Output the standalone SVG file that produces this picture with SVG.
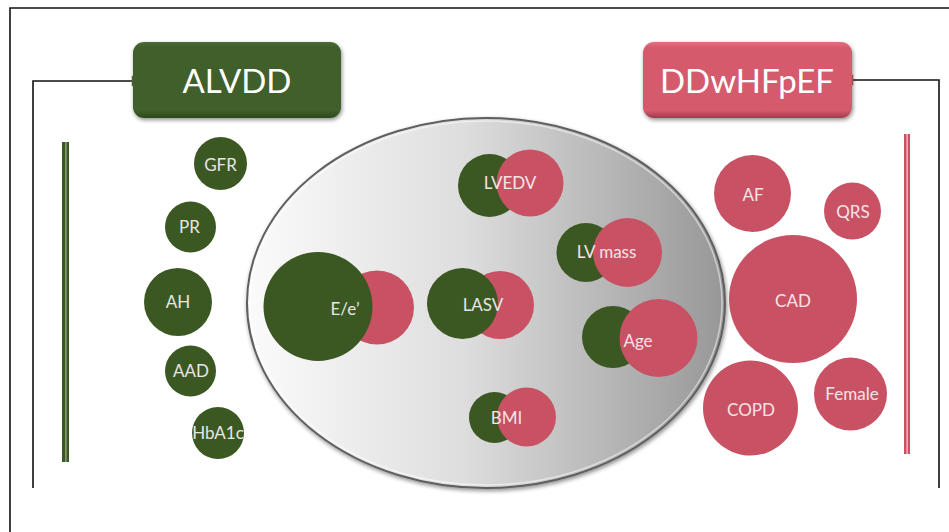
<svg xmlns="http://www.w3.org/2000/svg" width="949" height="532" viewBox="0 0 949 532">
<defs>
<style>
.g{fill:#3b5823}
.p{fill:#c85264}
.t{font-family:Lato,"Liberation Sans",sans-serif;font-size:17px;text-anchor:middle}
.tg{fill:#e6e6e6}
.tp{fill:#f7e3e6}
.ln{fill:none;stroke:#111;stroke-width:1.6}
.title{font-family:Lato,"Liberation Sans",sans-serif;font-size:33px;text-anchor:middle;fill:#ffffff}
</style>
<linearGradient id="ell" x1="0" y1="0" x2="1" y2="0">
<stop offset="0" stop-color="#fbfbfb"/>
<stop offset="0.45" stop-color="#dedede"/>
<stop offset="1" stop-color="#979797"/>
</linearGradient>
<linearGradient id="gbox" x1="0" y1="0" x2="0" y2="1">
<stop offset="0" stop-color="#4a6b33"/>
<stop offset="0.08" stop-color="#3f5e2a"/>
<stop offset="0.9" stop-color="#3f5e2a"/>
<stop offset="1" stop-color="#2d4a1c"/>
</linearGradient>
<linearGradient id="pbox" x1="0" y1="0" x2="0" y2="1">
<stop offset="0" stop-color="#e07080"/>
<stop offset="0.08" stop-color="#d55a6c"/>
<stop offset="0.9" stop-color="#d55a6c"/>
<stop offset="1" stop-color="#9e3a4a"/>
</linearGradient>
<filter id="sh" x="-10%" y="-10%" width="120%" height="130%">
<feGaussianBlur in="SourceAlpha" stdDeviation="2"/>
<feOffset dx="1" dy="2" result="b"/>
<feComponentTransfer><feFuncA type="linear" slope="0.45"/></feComponentTransfer>
<feMerge><feMergeNode/><feMergeNode in="SourceGraphic"/></feMerge>
</filter>
</defs>

<!-- frame -->
<path d="M10,532 V8 H949" class="ln" stroke-width="2"/>

<g id="connectors">
<path d="M134,81 H33 V488" class="ln"/>
<path d="M852,80 H939 V488" class="ln"/>
<rect x="132" y="76" width="6" height="10" fill="#3f5e2a" stroke="#7f8f70" stroke-width="0.6"/>
<rect x="847" y="75" width="6" height="10" fill="#d55a6c" stroke="#b08890" stroke-width="0.6"/>
</g>

<g id="alvdd-bar">
<rect x="62" y="142" width="7" height="320" class="g"/>
<rect x="65.3" y="142" width="1.2" height="320" fill="#9fb18f"/>
</g>
<g id="ddwhfpef-bar">
<rect x="904" y="134" width="6" height="320" class="p"/>
<rect x="906.5" y="134" width="1.2" height="320" fill="#f3d3d8"/>
</g>

<g id="ALVDD">
<rect x="133" y="42" width="208" height="76" rx="11" fill="url(#gbox)" filter="url(#sh)"/>
<text x="237" y="93" class="title">ALVDD</text>
</g>
<g id="DDwHFpEF">
<rect x="643" y="42" width="209" height="76" rx="11" fill="url(#pbox)" filter="url(#sh)"/>
<text x="747" y="93" class="title">DDwHFpEF</text>
</g>

<g id="shared-ellipse">
<ellipse cx="486" cy="303" rx="239" ry="185" fill="url(#ell)" stroke="#5e5e5e" stroke-width="2" filter="url(#sh)"/>
<ellipse cx="486" cy="303" rx="236" ry="182" fill="none" stroke="#ffffff" stroke-opacity="0.5" stroke-width="1.5"/>
</g>

<!-- left ALVDD factors -->
<g id="GFR"><circle cx="220.5" cy="163.5" r="26.5" class="g"/><text x="220.5" y="170.5" class="t tg">GFR</text></g>
<g id="PR"><circle cx="190.5" cy="227" r="25.5" class="g"/><text x="189.5" y="233" class="t tg">PR</text></g>
<g id="AH"><circle cx="178" cy="302" r="34" class="g"/><text x="178" y="308" class="t tg">AH</text></g>
<g id="AAD"><circle cx="190.5" cy="371" r="25.5" class="g"/><text x="191" y="377" class="t tg">AAD</text></g>
<g id="HbA1c"><circle cx="218" cy="433" r="26" class="g"/><text x="218" y="439" class="t tg">HbA1c</text></g>

<!-- right DDwHFpEF factors -->
<g id="AF"><circle cx="752.5" cy="193.5" r="38.5" class="p"/><text x="753" y="201" class="t tp">AF</text></g>
<g id="QRS"><circle cx="852.5" cy="211" r="28.5" class="p"/><text x="853" y="218" class="t tp" font-size="15">QRS</text></g>
<g id="CAD"><circle cx="793" cy="299" r="64" class="p"/><text x="793" y="307" class="t tp">CAD</text></g>
<g id="COPD"><circle cx="750.5" cy="408" r="47.5" class="p"/><text x="751" y="416" class="t tp">COPD</text></g>
<g id="Female"><circle cx="850.5" cy="394" r="36.5" class="p"/><text x="852" y="400" class="t tp">Female</text></g>

<!-- shared factors -->
<g id="LVEDV">
<circle cx="489.5" cy="185.5" r="31.5" class="g"/>
<circle cx="530" cy="183" r="33.5" class="p"/>
<text x="510" y="189" class="t tp">LVEDV</text>
</g>
<g id="LVmass">
<circle cx="586" cy="252.5" r="29.5" class="g"/>
<circle cx="627.5" cy="252.5" r="34.5" class="p"/>
<text x="606.5" y="258" class="t tp">LV mass</text>
</g>
<g id="Ee">
<circle cx="377" cy="307.5" r="37" class="p"/>
<circle cx="318" cy="306.5" r="54.5" class="g"/>
<text x="345" y="315" class="t tg">E/e’</text>
</g>
<g id="LASV">
<circle cx="500" cy="305" r="34" class="p"/>
<circle cx="462.5" cy="303.5" r="35.5" class="g"/>
<text x="483" y="311" class="t tg">LASV</text>
</g>
<g id="Age">
<circle cx="613" cy="337" r="31" class="g"/>
<circle cx="658.5" cy="338" r="39" class="p"/>
<text x="638" y="347" class="t tp">Age</text>
</g>
<g id="BMI">
<circle cx="494.5" cy="417.5" r="25.5" class="g"/>
<circle cx="526.5" cy="417" r="29.5" class="p"/>
<text x="506.5" y="424" class="t tp">BMI</text>
</g>
</svg>
